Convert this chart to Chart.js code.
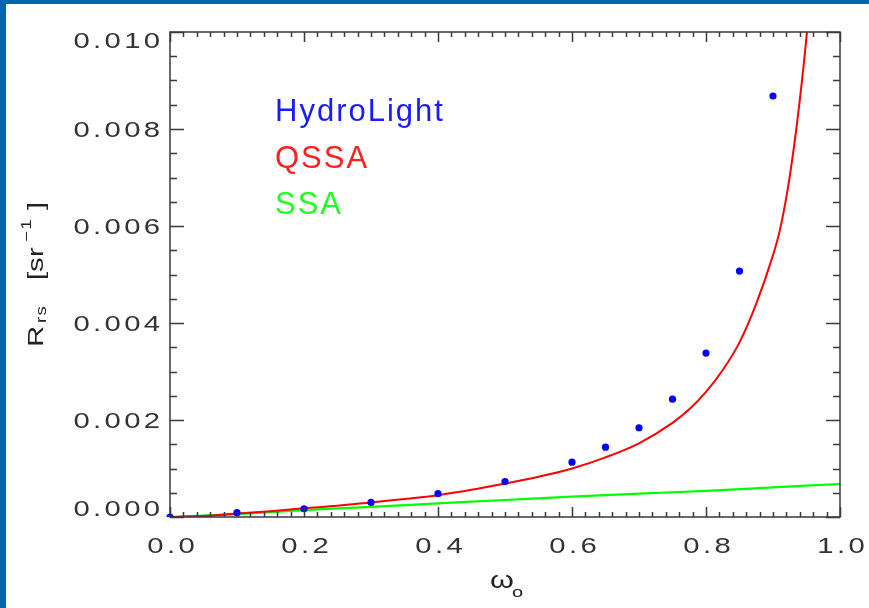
<!DOCTYPE html>
<html>
<head>
<meta charset="utf-8">
<script src="https://cdn.jsdelivr.net/npm/chart.js@4"></script>
<style>
  html, body { margin: 0; padding: 0; background: #fff; }
  canvas { display: block; }
</style>
</head>
<body>
<canvas id="rrsChart" width="869" height="608"></canvas>
<script>
// HydroLight reference points
const omegaHL = [0, 0.1, 0.2, 0.3, 0.4, 0.5, 0.6, 0.65, 0.7, 0.75, 0.8, 0.85, 0.9];
const rrsHL = [0, 0.00009, 0.00017, 0.0003, 0.00048, 0.00073, 0.00113, 0.00144, 0.00184, 0.00243, 0.00338, 0.00507, 0.00868];

// QSSA curve
const omegaQSSA = [0, 0.05, 0.1, 0.15, 0.2, 0.25, 0.3, 0.35, 0.4, 0.45, 0.5, 0.55, 0.6, 0.65, 0.7, 0.75, 0.775, 0.8, 0.825, 0.85, 0.875, 0.9, 0.91, 0.92, 0.93, 0.94, 0.95, 0.96];
const rrsQSSA = [0, 0.00002, 0.00007, 0.00012, 0.00018, 0.00023, 0.0003, 0.00037, 0.00045, 0.00056, 0.00069, 0.00083, 0.001, 0.00123, 0.00152, 0.00194, 0.00222, 0.00258, 0.00303, 0.0036, 0.0044, 0.0054, 0.0059, 0.0066, 0.0075, 0.0086, 0.0099, 0.0115];

// SSA curve
const omegaSSA = [0, 0.1, 0.2, 0.3, 0.4, 0.5, 0.6, 0.7, 0.8, 0.9, 1.0];
const rrsSSA = [0, 0.00006, 0.00014, 0.00021, 0.00028, 0.00035, 0.00042, 0.00048, 0.00054, 0.00061, 0.00068];

const xTicks = [0, 0.2, 0.4, 0.6, 0.8, 1.0];
const xTickLabels = ['0.0', '0.2', '0.4', '0.6', '0.8', '1.0'];
const yTicks = [0, 0.002, 0.004, 0.006, 0.008, 0.010];
const yTickLabels = ['0.000', '0.002', '0.004', '0.006', '0.008', '0.010'];

const toPoints = (xs, ys) => xs.map((x, i) => ({ x: x, y: ys[i] }));

const FAM = '"Liberation Sans", Arial, sans-serif';
const STRETCH = 1.33;

// wide, thin IDL-ish lettering: stretched horizontally
function wideText(ctx, text, x, y, align, size, spacing) {
  ctx.save();
  ctx.translate(x, y);
  ctx.scale(STRETCH, 1);
  ctx.font = size + 'px ' + FAM;
  ctx.letterSpacing = spacing + 'px';
  ctx.textAlign = 'left';
  ctx.textBaseline = 'alphabetic';
  const w = ctx.measureText(text).width - spacing;
  let left = 0;
  if (align === 'right') left = -w;
  if (align === 'center') left = -w / 2;
  ctx.fillText(text, left, 0);
  ctx.restore();
}

const idlFrame = {
  id: 'idlFrame',
  beforeDraw(chart) {
    const ctx = chart.ctx;
    ctx.save();
    ctx.fillStyle = '#ffffff';
    ctx.fillRect(0, 0, chart.width, chart.height);
    ctx.fillStyle = '#0066ad';
    ctx.fillRect(0, 0, 6, chart.height);
    ctx.fillRect(0, 0, chart.width, 4);
    ctx.restore();
  },
  afterDraw(chart) {
    const ctx = chart.ctx;
    const a = chart.chartArea;
    const xs = chart.scales.x;
    const ys = chart.scales.y;

    ctx.save();
    ctx.strokeStyle = '#3a3a3a';
    ctx.lineWidth = 1.5;
    ctx.strokeRect(a.left, a.top, a.right - a.left, a.bottom - a.top);

    // inward ticks on all sides
    ctx.beginPath();
    for (let i = 0; i <= 50; i++) {
      const px = Math.round(xs.getPixelForValue(i / 50)) + 0.5;
      const len = i % 10 === 0 ? 10 : 5;
      ctx.moveTo(px, a.bottom); ctx.lineTo(px, a.bottom - len);
      ctx.moveTo(px, a.top); ctx.lineTo(px, a.top + len);
    }
    for (let i = 0; i <= 20; i++) {
      const py = Math.round(ys.getPixelForValue(i * 0.0005)) + 0.5;
      const len = i % 4 === 0 ? 14 : 7;
      ctx.moveTo(a.left, py); ctx.lineTo(a.left + len, py);
      ctx.moveTo(a.right, py); ctx.lineTo(a.right - len, py);
    }
    ctx.stroke();

    // tick labels
    ctx.fillStyle = '#333';
    yTicks.forEach((v, i) => {
      let py = ys.getPixelForValue(v) + 8;
      if (i === 0) py -= 9;
      if (i === yTicks.length - 1) py += 8;
      wideText(ctx, yTickLabels[i], a.left - 10, py, 'right', 22, 2.5);
    });
    xTicks.forEach((v, i) => {
      wideText(ctx, xTickLabels[i], xs.getPixelForValue(v) + 1, 553, 'center', 22, 2.5);
    });

    // y title: R_rs  [sr^-1]
    ctx.fillStyle = '#222';
    ctx.save();
    ctx.translate(43, 347);
    ctx.rotate(-Math.PI / 2);
    wideText(ctx, 'R', 0, 0, 'left', 22, 0);
    wideText(ctx, 'rs', 24, 3, 'left', 14, 1);
    wideText(ctx, '[', 67, 0, 'left', 22, 0);
    wideText(ctx, 's', 75, 0, 'left', 22, 0);
    wideText(ctx, 'r', 90, 0, 'left', 22, 0);
    wideText(ctx, '\u22121', 105, -12, 'left', 14, 1);
    wideText(ctx, ']', 137, 0, 'left', 22, 0);
    ctx.restore();

    // x title: omega_o
    wideText(ctx, '\u03C9', 490, 588, 'left', 23, 0);
    wideText(ctx, 'o', 512, 597, 'left', 15, 0);

    // text-only legend
    chart.data.datasets.forEach((ds, i) => {
      ctx.fillStyle = ds.legendColor;
      ctx.font = '31px ' + FAM;
      ctx.letterSpacing = '2px';
      ctx.textAlign = 'left';
      ctx.textBaseline = 'alphabetic';
      ctx.fillText(ds.label, 275, 121 + i * 46.5);
    });
    ctx.restore();
  }
};

const data = {
  datasets: [
    {
      label: 'HydroLight',
      legendColor: '#1a1aff',
      data: toPoints(omegaHL, rrsHL),
      showLine: false,
      pointRadius: 3.6,
      pointBackgroundColor: '#0000ff',
      pointBorderWidth: 0,
      clip: { left: 4, top: 0, right: 0, bottom: 0 },
    },
    {
      label: 'QSSA',
      legendColor: '#ff2020',
      data: toPoints(omegaQSSA, rrsQSSA),
      showLine: true,
      borderColor: '#ff0000',
      borderWidth: 2,
      pointRadius: 0,
      cubicInterpolationMode: 'monotone',
      clip: 0,
    },
    {
      label: 'SSA',
      legendColor: '#20ff20',
      data: toPoints(omegaSSA, rrsSSA),
      showLine: true,
      borderColor: '#00ff00',
      borderWidth: 2.2,
      pointRadius: 0,
      cubicInterpolationMode: 'monotone',
      clip: 0,
    },
  ],
};

const config = {
  type: 'scatter',
  data: data,
  options: {
    responsive: false,
    animation: false,
    layout: { padding: { top: 32, right: 29, left: 0, bottom: 0 } },
    plugins: { legend: { display: false }, tooltip: { enabled: false } },
    scales: {
      x: {
        type: 'linear',
        min: 0,
        max: 1,
        grid: { display: false },
        border: { display: false },
        ticks: { display: false, stepSize: 0.2 },
        afterFit: (s) => { s.height = 91; s.paddingLeft = 0; s.paddingRight = 0; },
      },
      y: {
        type: 'linear',
        min: 0,
        max: 0.01,
        grid: { display: false },
        border: { display: false },
        ticks: { display: false },
        afterFit: (s) => { s.width = 170; s.paddingTop = 0; s.paddingBottom = 0; },
      },
    },
  },
  plugins: [idlFrame],
};

const rrsChart = new Chart(document.getElementById('rrsChart'), config);
</script>
</body>
</html>
